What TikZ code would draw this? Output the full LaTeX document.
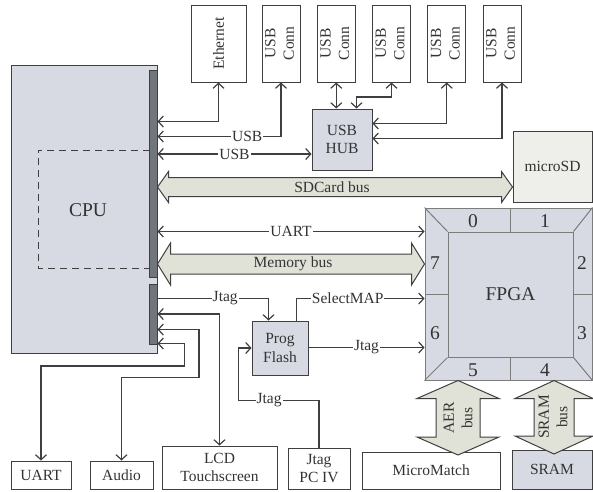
\documentclass[tikz,border=0pt]{standalone}
\usepackage{fontspec}
\setmainfont{Liberation Serif}
\usepackage{graphicx}
\usetikzlibrary{arrows.meta, calc}
\definecolor{boxgray}{HTML}{D7DAE2}
\definecolor{bardark}{HTML}{71767C}
\definecolor{busfill}{HTML}{E0E2D8}
\definecolor{sdfill}{HTML}{EEEFEA}
\definecolor{linegray}{HTML}{3F3F3F}
\definecolor{fpgaline}{HTML}{7C7C7C}
\definecolor{textgray}{HTML}{333333}
\newcommand{\lblfont}{\fontsize{15.5}{18.5}\selectfont}
\newcommand{\bigfont}{\fontsize{19.5}{22}\selectfont}
% fat bus arrow between two named coordinates: tail, tip, half body, half head, head length
\newcommand{\busarrow}[5]{%
  \coordinate (busp) at ($(#1)!#5!(#2)$);
  \coordinate (busq) at ($(#2)!#5!(#1)$);
  \draw[bus] (#1) -- ($(busp)!#4!90:(#2)$) -- ($(busp)!#3!90:(#2)$)
    -- ($(busq)!#3!-90:(#1)$) -- ($(busq)!#4!-90:(#1)$) -- (#2)
    -- ($(busq)!#4!90:(#1)$) -- ($(busq)!#3!90:(#1)$)
    -- ($(busp)!#3!-90:(#2)$) -- ($(busp)!#4!-90:(#2)$) -- cycle;}

\begin{document}
\begin{tikzpicture}[x=1pt, y=-1pt, font=\lblfont, text=textgray,
    >={Straight Barb[length=5pt, width=11pt]},
    box/.style={draw=linegray, line width=1pt, inner sep=0pt, align=center},
    link/.style={draw=linegray, line width=1.2pt},
    lbl/.style={fill=white, inner sep=1pt},
    bus/.style={draw=linegray, fill=busfill, line width=1pt},
    fpgaedge/.style={draw=fpgaline, line width=1pt}]
  \useasboundingbox (0,0) rectangle (593,491);

  % top row
  \node[box, minimum width=55, minimum height=77] (ethernet) at (218.5,43.5) {\rotatebox{90}{Ethernet}};
  \foreach \i in {1,...,5}
    \node[box, minimum width=38, minimum height=77] (conn\i) at ({281+55.25*(\i-1)},43.5)
      {\rotatebox{90}{\begin{tabular}{@{}c@{}}USB\\Conn\end{tabular}}};

  % CPU with its two port bars
  \node[box, fill=boxgray, minimum width=146, minimum height=288] (cpu) at (84,209) {};
  \node[font=\bigfont] (cpulabel) at (88,210) {CPU};
  \draw[linegray, line width=1pt, dash pattern=on 7pt off 5pt] (150,150) -| (38,268) -- (150,268);
  \node[box, fill=bardark, minimum width=8, minimum height=207] (bar1) at (153,173.5) {};
  \node[box, fill=bardark, minimum width=8, minimum height=60] (bar2) at (153,314) {};

  \node[box, fill=boxgray, minimum width=60, minimum height=61] (hub) at (342,139.5) {USB\\HUB};
  \node[box, fill=sdfill, minimum width=79, minimum height=71] (microsd) at (552.5,166.5) {microSD};

  % FPGA with numbered banks
  \node[draw=fpgaline, line width=1pt, fill=boxgray, minimum width=167, minimum height=172,
        inner sep=0pt] (fpgaouter) at (508.5,294) {};
  \node[draw=fpgaline, line width=1pt, fill=boxgray, minimum width=125, minimum height=125,
        inner sep=0pt, font=\bigfont] (fpga) at (510.5,294.5) {FPGA};
  \foreach \c in {north west, north east, south west, south east}
    \draw[fpgaedge] (fpgaouter.\c) -- (fpga.\c);
  \draw[fpgaedge] (fpga.north) -- (fpga.north |- fpgaouter.north)
    (fpga.south) -- (fpga.south |- fpgaouter.south)
    (fpga.west) -- (fpga.west -| fpgaouter.west)
    (fpga.east) -- (fpga.east -| fpgaouter.east);
  \foreach \d/\x/\y in {0/473/221, 1/545/221, 2/582/263, 3/582/333,
                        4/545/370, 5/473/370, 6/435/333, 7/435/263}
    \node[font=\bigfont] (bank\d) at (\x,\y) {\d};

  \node[box, fill=boxgray, minimum width=56, minimum height=54] (progflash) at (280,348) {Prog\\Flash};

  % bottom row
  \node[box, minimum width=60, minimum height=28] (uart) at (41,475) {UART};
  \node[box, minimum width=63, minimum height=28] (audio) at (121.5,475) {Audio};
  \node[box, minimum width=115, minimum height=43] (lcd) at (219.5,467.5) {LCD\\Touchscreen};
  \node[box, minimum width=62, minimum height=41] (jtagpc) at (319,468.5) {Jtag\\PC IV};
  \node[box, minimum width=138, minimum height=37] (micromatch) at (431,470.5) {MicroMatch};
  \node[box, fill=boxgray, minimum width=80, minimum height=39] (sram) at (552,469.5) {SRAM};

  % USB links
  \draw[link, <->] (bar1.east |- 0,121.5) -| (ethernet.south);
  \draw[link, <->] (bar1.east |- 0,136.5) -| node[lbl, pos=0.363] {USB} (conn1.south);
  \draw[link, <->] (bar1.east |- 0,154) -- node[lbl] {USB} (hub.west |- 0,154);
  \draw[link, <->] (conn2.south) -- (conn2.south |- hub.north);
  \draw[link, <->] (356.5,0 |- hub.north) -- (356.5,97) -| (conn3.south);
  \draw[link, <->] (hub.east |- 0,123.5) -| (conn4.south);
  \draw[link, <->] (hub.east |- 0,138.5) -| (conn5.south);

  % buses
  \coordinate (sd tail) at (bar1.east |- 0,187);
  \coordinate (sd head) at (microsd.west |- 0,187);
  \busarrow{sd tail}{sd head}{9.5pt}{15.5pt}{11pt}
  \node (sdlabel) at (332,187) {SDCard bus};
  \coordinate (mem tail) at (bar1.east |- 0,264);
  \coordinate (mem head) at (fpgaouter.west |- 0,264);
  \busarrow{mem tail}{mem head}{10pt}{21pt}{13pt}
  \node (memlabel) at (293,264) {Memory bus};
  \coordinate (aer top) at (458,0 |- fpgaouter.south);
  \coordinate (aer bottom) at (458,455);
  \busarrow{aer top}{aer bottom}{22pt}{41pt}{18pt}
  \node[rotate=90, align=center] (aerlabel) at (458,418) {AER\\bus};
  \coordinate (sram top) at (554,0 |- fpgaouter.south);
  \coordinate (sram bottom) at (554,454);
  \busarrow{sram top}{sram bottom}{20pt}{39pt}{18pt}
  \node[rotate=90, align=center] (sramlabel) at (553,417) {SRAM\\bus};

  % UART and Jtag
  \draw[link, <->] (bar1.east |- 0,231.5) -- node[lbl] {UART} (fpgaouter.west |- 0,231.5);
  \draw[link, ->] (bar2.east |- 0,298.5) -| node[lbl, pos=0.305] {Jtag} (268.5,0 |- progflash.north);
  \draw[link, ->] (296.5,0 |- progflash.north) |- node[lbl, pos=0.70] {SelectMAP} (fpgaouter.west |- 0,298.5);
  \draw[link, ->] (progflash.east |- 0,347.5) -- node[lbl] {Jtag} (fpgaouter.west |- 0,347.5);
  \draw[link, ->] (jtagpc.north) |- node[lbl, pos=0.81] {Jtag} (238.5,400.5) |- (progflash.west);

  % peripherals below the CPU
  \draw[link, <->] (bar2.east |- 0,314) -| (lcd.north);
  \draw[link, <->] (bar2.east |- 0,329.5) -| (199,377.5) -| (audio.north);
  \draw[link, <->] (bar2.east |- 0,343.5) -| (184.5,366) -| (uart.north);
\end{tikzpicture}
\end{document}
